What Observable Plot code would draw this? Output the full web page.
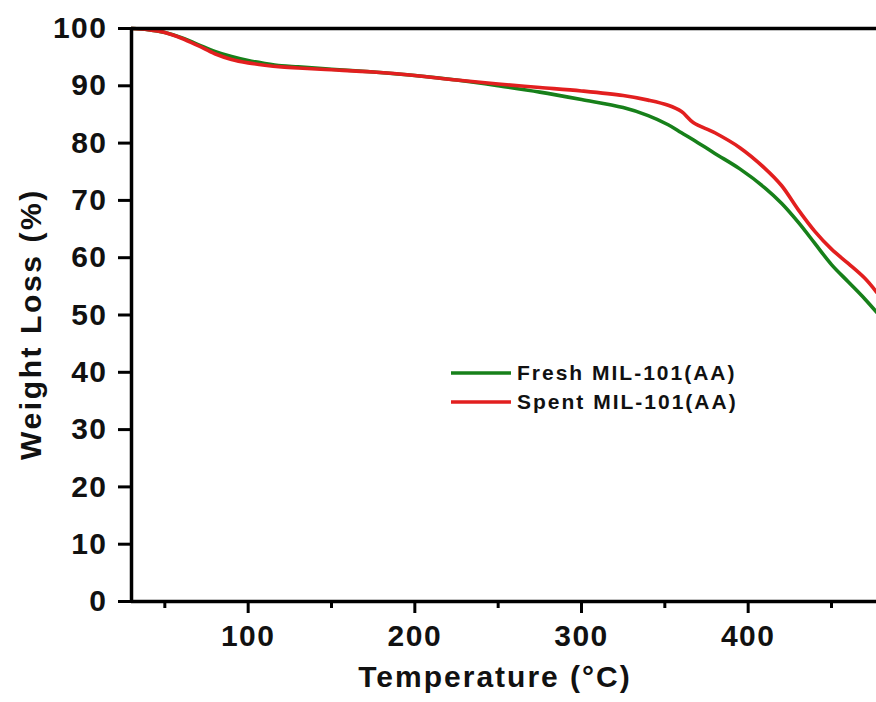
<!DOCTYPE html>
<html>
<head>
<meta charset="utf-8">
<script src="https://cdn.jsdelivr.net/npm/d3@7"></script>
<script src="https://cdn.jsdelivr.net/npm/@observablehq/plot@0.6"></script>
<style>
  html, body { margin: 0; padding: 0; background: #fff; }
  #wrap { position: relative; width: 876px; height: 702px; }
  #legend { position: absolute; left: 450px; top: 358px; font-family: "Liberation Sans", Arial, sans-serif; font-weight: bold; font-size: 21px; letter-spacing: 2px; color: #111; line-height: 29px; }
  #legend .row { display: flex; align-items: center; white-space: nowrap; }
  #legend svg { margin-right: 5px; }
</style>
</head>
<body>
<div id="wrap"></div>
<script>
// Temperatures (°C)
const temps = [30, 40, 50, 60, 70, 80, 90, 100, 110, 120, 130, 150, 175, 200, 225, 250, 275, 300, 325, 340, 352, 360, 367, 380, 395, 410, 420, 430, 440, 450, 460, 470, 477];
// Fresh MIL-101(AA) weight (%)
const fresh = [100, 99.8, 99.3, 98.4, 97.2, 96.0, 95.1, 94.4, 93.9, 93.5, 93.3, 92.9, 92.4, 91.8, 91.0, 90.0, 88.9, 87.6, 86.2, 84.8, 83.2, 81.8, 80.6, 78.2, 75.5, 72.2, 69.5, 66.2, 62.5, 58.8, 55.8, 52.8, 50.5];
// Spent MIL-101(AA) weight (%)
const spent = [100, 99.8, 99.3, 98.3, 97.0, 95.6, 94.6, 94.0, 93.6, 93.3, 93.1, 92.8, 92.4, 91.8, 91.0, 90.3, 89.7, 89.1, 88.3, 87.5, 86.6, 85.5, 83.6, 81.8, 79.2, 75.6, 72.6, 68.4, 64.6, 61.5, 59.0, 56.4, 54.0];

const seriesNames = ["Fresh MIL-101(AA)", "Spent MIL-101(AA)"];
const seriesColors = ["#17801a", "#e21f1f"];
const yTicks = [0, 10, 20, 30, 40, 50, 60, 70, 80, 90, 100];
const xMajor = [100, 200, 300, 400];
const xMinor = [50, 150, 250, 350, 450];
const xTitle = "Temperature (°C)";
const yTitle = "Weight Loss (%)";

const rows = [];
temps.forEach((t, i) => {
  rows.push({T: t, W: fresh[i], s: seriesNames[0]});
});
temps.forEach((t, i) => {
  rows.push({T: t, W: spent[i], s: seriesNames[1]});
});

const font = "Liberation Sans, Arial, Helvetica, sans-serif";

const chart = Plot.plot({
  width: 876,
  height: 702,
  marginLeft: 131,
  marginTop: 28,
  marginBottom: 101,
  marginRight: 0,
  style: {fontFamily: font, fontWeight: "bold", color: "#111", background: "#fff", overflow: "hidden"},
  x: {domain: [30, 477]},
  y: {domain: [0, 100]},
  color: {domain: seriesNames, range: seriesColors},
  marks: [
    Plot.line(rows, {x: "T", y: "W", z: "s", stroke: "s", strokeWidth: 3.6, curve: "catmull-rom"}),
    Plot.ruleX([30], {stroke: "#000", strokeWidth: 3.5}),
    Plot.ruleY([0, 100], {stroke: "#000", strokeWidth: 3.5}),
    Plot.axisY({ticks: yTicks, tickSize: 13, tickPadding: 11, strokeWidth: 3, stroke: "#000", fontSize: 30, fontWeight: "bold", label: null}),
    Plot.axisX({ticks: xMajor, tickSize: 12, tickPadding: 11, strokeWidth: 3, stroke: "#000", fontSize: 30, fontWeight: "bold", label: null}),
    Plot.axisX({ticks: xMinor, tickSize: 7, strokeWidth: 3, stroke: "#000", tickFormat: () => "", label: null}),
    Plot.text([xTitle], {text: d => d, frameAnchor: "bottom", dx: -9, dy: 85, fontSize: 30, fontWeight: "bold", fill: "#111"}),
    Plot.text([yTitle], {text: d => d, frameAnchor: "left", textAnchor: "middle", rotate: -90, dx: -100, dy: 9, fontSize: 30, fontWeight: "bold", fill: "#111"})
  ]
});

const sel = d3.select(chart).selectAll("text");
sel.filter(function () { return this.textContent === xTitle; }).style("letter-spacing", "2px");
sel.filter(function () { return this.textContent === yTitle; }).style("letter-spacing", "2.6px");
sel.filter(function () { return /^\d+$/.test(this.textContent); }).style("letter-spacing", "1.5px");

const wrap = document.getElementById("wrap");
wrap.appendChild(chart);

const legend = document.createElement("div");
legend.id = "legend";
seriesNames.forEach((name, i) => {
  const row = document.createElement("div");
  row.className = "row";
  row.innerHTML = `<svg width="62" height="8"><line x1="1" y1="4" x2="61" y2="4" stroke="${seriesColors[i]}" stroke-width="3.6"/></svg><span>${name}</span>`;
  legend.appendChild(row);
});
wrap.appendChild(legend);
</script>
</body>
</html>
